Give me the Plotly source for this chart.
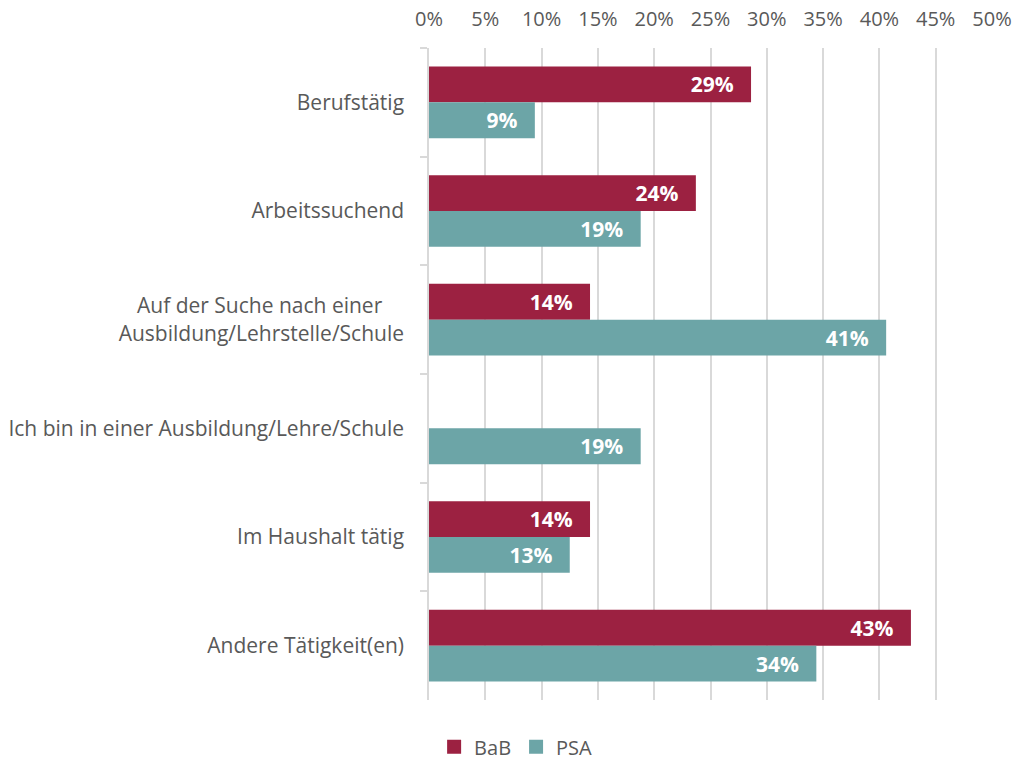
import plotly.graph_objects as go

categories = [
    "Berufstätig",
    "Arbeitssuchend",
    "Auf der Suche nach einer\u00a0\u00a0\u00a0\u00a0<br>Ausbildung/Lehrstelle/Schule",
    "Ich bin in einer Ausbildung/Lehre/Schule",
    "Im Haushalt tätig",
    "Andere Tätigkeit(en)",
]
bab = [28.6, 23.7, 14.3, None, 14.3, 42.8]
psa = [9.4, 18.8, 40.6, 18.8, 12.5, 34.4]
series_names = ["BaB", "PSA"]
x_ticks = list(range(0, 51, 5))

colors = ["#9C2141", "#6CA5A7"]
FONT = "Open Sans"
FS = 21


def labels(vals):
    return [("" if v is None else f"{int(v + 0.5):d}%\u00a0\u00a0\u2009") for v in vals]


fig = go.Figure()
for name, vals, col in zip(series_names, [bab, psa], colors):
    fig.add_trace(go.Bar(
        y=categories, x=vals, name=name, orientation="h",
        marker=dict(color=col, line=dict(width=0)),
        text=labels(vals), textposition="inside", insidetextanchor="end",
        textfont=dict(family=FONT, size=FS, color="white", weight="bold"),
        cliponaxis=False, showlegend=False,
    ))
# legend entries with square swatches
for name, col in zip(series_names, colors):
    fig.add_trace(go.Scatter(
        x=[None], y=[None], mode="markers", name=name,
        marker=dict(symbol="square", size=14, color=col),
        showlegend=True,
    ))

fig.update_layout(
    width=1015, height=762,
    margin=dict(l=429, r=23, t=48, b=62),
    paper_bgcolor="white", plot_bgcolor="white",
    barmode="group", bargap=0.34, bargroupgap=0,
    font=dict(family=FONT, size=FS, color="#595959"),
    uniformtext=dict(minsize=FS, mode="show"),
    xaxis=dict(
        side="top", range=[0, 50], tickvals=x_ticks,
        ticktext=[f"{t}%" for t in x_ticks],
        showgrid=True, gridcolor="#D9D9D9", gridwidth=1.5,
        zeroline=False, showline=False, ticks="",
        tickfont=dict(size=20, color="#595959"),
        automargin=False, ticklabelstandoff=17,
    ),
    yaxis=dict(
        autorange="reversed", showgrid=False,
        showline=True, linecolor="#D9D9D9", linewidth=1.5,
        ticks="outside", tickson="boundaries", ticklen=7,
        tickcolor="#D9D9D9", tickwidth=1.5,
        ticklabelstandoff=19, automargin=False,
        tickfont=dict(size=FS, color="#595959"),
    ),
    legend=dict(
        orientation="h", xref="container", yref="container",
        x=0.508, xanchor="center", y=0.02, yanchor="middle",
        font=dict(size=20, color="#595959"),
        itemwidth=30, traceorder="normal",
    ),
)

fig.write_html(
    "out.html",
    config={"displayModeBar": False},
    post_script="document.body.style.margin='0';document.body.style.overflow='hidden';",
)
